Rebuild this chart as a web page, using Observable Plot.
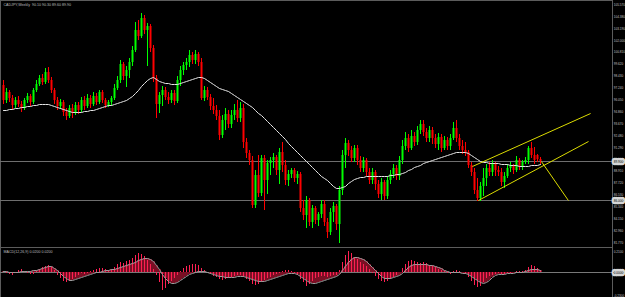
<!DOCTYPE html>
<html><head><meta charset="utf-8">
<script src="https://cdn.jsdelivr.net/npm/d3@7"></script>
<script src="https://cdn.jsdelivr.net/npm/@observablehq/plot@0.6"></script>
<style>html,body{margin:0;padding:0;background:#000;overflow:hidden} svg{display:block}</style>
</head><body><div id="chart"></div>
<script>
const symbolTitle = "CADJPY,Weekly  90.10 90.30 89.60 89.90";
const macdTitle = "MACD(12,26,9) 0.0200 0.0200";

const open = [97.5,96.0,96.8,96.2,95.5,96.0,95.6,95.2,96.0,96.4,
95.8,97.0,97.6,98.2,97.8,98.8,98.0,97.0,96.0,95.4,
95.8,94.8,94.4,95.2,94.8,95.5,95.0,96.0,95.4,96.2,
95.6,96.4,95.8,96.8,96.0,95.5,95.8,96.2,97.2,98.0,
99.6,98.4,99.0,99.8,101.0,103.0,102.4,104.2,103.0,103.4,
101.2,98.2,95.6,96.5,97.0,96.3,96.0,96.7,95.9,98.0,
99.0,99.5,99.8,100.5,100.0,100.6,99.8,96.2,97.0,96.3,
95.4,95.0,94.4,92.5,94.0,94.6,93.6,94.5,95.0,94.2,
95.2,91.8,90.7,90.0,85.5,88.5,86.7,90.2,88.0,89.7,
90.0,90.3,89.0,90.8,89.5,88.0,88.6,89.0,88.2,88.6,
85.2,84.5,86.0,83.8,85.2,84.0,84.6,85.6,83.8,82.8,
84.8,85.4,83.6,87.0,90.5,91.7,91.0,90.2,91.2,90.0,
89.2,90.0,88.8,88.0,88.8,87.6,86.6,87.8,86.4,88.0,
88.6,89.2,88.4,90.0,91.4,92.2,91.2,92.4,91.8,93.0,
93.6,92.8,92.2,93.0,92.2,91.6,92.3,91.2,92.0,91.4,
92.2,93.2,92.2,91.4,91.0,90.8,89.5,88.8,87.0,86.2,
87.4,88.2,89.2,88.8,89.6,89.0,88.8,87.8,88.4,89.2,
89.4,89.0,90.0,89.4,89.8,90.0,91.2,90.5,90.5,90.1];
const close = [96.0,96.8,96.2,95.5,96.0,95.6,95.2,96.0,96.4,95.8,
97.0,97.6,98.2,97.8,98.8,98.0,97.0,96.0,95.4,95.8,
94.8,94.4,95.2,94.8,95.5,95.0,96.0,95.4,96.2,95.6,
96.4,95.8,96.8,96.0,95.5,95.8,96.2,97.2,98.0,99.6,
98.4,99.0,99.8,101.0,103.0,102.4,104.2,103.0,103.4,101.2,
98.2,95.6,96.5,97.0,96.3,96.0,96.7,95.9,98.0,99.0,
99.5,99.8,100.5,100.0,100.6,99.8,96.2,97.0,96.3,95.4,
95.0,94.4,92.5,94.0,94.6,93.6,94.5,95.0,94.2,95.2,
91.8,90.7,90.0,85.5,88.5,86.7,90.2,88.0,89.7,90.0,
90.3,89.0,90.8,89.5,88.0,88.6,89.0,88.2,88.6,85.2,
84.5,86.0,83.8,85.2,84.0,84.6,85.6,83.8,82.8,84.8,
85.4,83.6,87.0,90.5,91.7,91.0,90.2,91.2,90.0,89.2,
90.0,88.8,88.0,88.8,87.6,86.6,87.8,86.4,88.0,88.6,
89.2,88.4,90.0,91.4,92.2,91.2,92.4,91.8,93.0,93.6,
92.8,92.2,93.0,92.2,91.6,92.3,91.2,92.0,91.4,92.2,
93.2,92.2,91.4,91.0,90.8,89.5,88.8,87.0,86.2,87.4,
88.2,89.2,88.8,89.6,89.0,88.8,87.8,88.4,89.2,89.4,
89.0,90.0,89.4,89.8,90.0,91.2,90.5,90.0,90.1,89.9];
const high = [98.0,97.2,97.0,96.5,96.3,96.4,95.9,96.2,96.7,96.6,
97.2,98.0,98.5,98.6,99.2,99.3,98.3,97.2,96.3,96.1,
96.0,95.2,95.5,95.6,95.8,95.8,96.3,96.4,96.6,96.5,
96.8,96.7,97.0,97.0,96.2,96.0,96.4,97.6,98.4,100.0,
99.8,99.4,100.2,101.4,103.8,104.0,104.7,104.5,103.7,103.6,
101.5,98.5,96.8,97.4,97.3,96.8,97.0,97.0,98.4,99.4,
99.8,100.2,101.0,100.8,101.0,100.8,100.2,97.4,97.3,96.6,
96.2,95.5,95.0,94.5,95.2,95.0,95.0,95.6,96.0,95.8,
95.6,92.2,91.0,90.4,89.0,90.5,90.5,90.5,90.0,90.3,
90.7,90.5,91.2,91.8,90.0,89.0,89.2,89.2,88.9,88.8,
86.0,86.4,86.2,85.5,85.4,84.8,86.0,86.0,84.2,85.2,
85.8,85.6,87.4,91.0,92.2,92.0,91.4,91.5,91.5,90.4,
90.3,90.2,89.2,89.2,89.0,88.0,88.2,88.0,88.4,89.0,
89.6,89.5,90.4,92.0,92.8,92.6,93.0,92.8,93.4,94.0,
94.0,93.2,93.4,93.3,92.6,92.7,92.6,92.4,92.3,92.6,
93.8,94.0,92.6,92.0,91.8,91.0,89.8,89.2,88.2,87.8,
89.2,89.6,89.8,90.0,89.8,89.4,89.2,88.8,89.6,89.8,
89.6,90.4,90.2,90.0,90.3,91.4,91.8,91.3,90.6,90.3];
const low = [95.6,95.7,95.8,95.0,95.2,95.3,94.8,95.0,95.7,95.4,
95.6,96.8,97.4,97.5,97.6,97.7,96.7,95.6,95.0,95.1,
94.4,94.0,94.2,94.2,94.5,94.6,94.8,95.0,95.2,95.2,
95.4,95.5,95.6,95.7,95.2,95.3,95.4,96.0,97.0,97.7,
98.0,97.3,98.2,99.4,100.8,102.0,102.2,102.6,99.4,100.8,
97.8,94.2,94.7,95.4,96.0,95.6,95.7,95.5,95.7,97.4,
98.5,99.0,99.3,99.6,99.6,99.4,96.0,95.9,96.0,95.0,
94.6,94.0,92.0,92.2,93.0,93.2,93.2,94.0,93.8,93.8,
91.2,90.2,89.5,85.2,85.2,86.3,86.4,85.0,86.6,88.5,
89.2,88.5,87.6,88.8,87.5,87.4,88.2,87.8,87.6,84.8,
84.0,83.2,83.4,83.2,83.6,83.4,84.2,83.4,82.2,82.5,
83.8,83.0,81.7,86.5,89.2,90.4,89.8,89.8,89.5,88.8,
88.8,88.4,87.6,87.6,87.0,86.2,86.0,86.0,86.1,87.6,
88.2,88.0,88.0,89.6,91.0,90.8,91.0,91.4,91.5,92.6,
92.4,91.8,91.8,91.6,91.2,91.0,90.8,91.0,91.0,91.0,
92.0,91.8,91.0,90.6,90.4,89.2,88.4,86.6,85.9,85.9,
86.4,87.4,88.4,88.4,88.4,88.4,87.4,87.2,88.2,88.8,
88.6,88.8,89.0,89.0,89.6,89.6,90.2,89.6,89.8,89.6];
const movingAverage = [95.0,95.0,95.1,95.1,95.2,95.2,95.3,95.3,95.4,95.4,
95.5,95.5,95.6,95.6,95.6,95.6,95.5,95.4,95.3,95.2,
95.1,95.0,94.9,94.8,94.8,94.8,94.8,94.9,94.9,95.0,
95.0,95.1,95.2,95.3,95.4,95.5,95.5,95.6,95.7,95.8,
95.9,96.0,96.2,96.4,96.7,97.0,97.4,97.7,98.0,98.2,
98.3,98.1,97.9,97.8,97.7,97.7,97.6,97.6,97.6,97.7,
97.8,97.9,98.0,98.1,98.2,98.3,98.3,98.2,98.0,97.8,
97.6,97.4,97.2,97.1,97.0,96.9,96.7,96.5,96.3,96.1,
95.9,95.7,95.5,95.3,95.0,94.7,94.5,94.2,93.9,93.6,
93.3,93.0,92.7,92.4,92.1,91.7,91.4,91.1,90.8,90.5,
90.2,89.9,89.6,89.3,89.0,88.7,88.4,88.2,88.0,87.7,
87.4,87.2,87.2,87.3,87.4,87.7,87.9,88.1,88.2,88.3,
88.3,88.4,88.4,88.4,88.4,88.4,88.4,88.4,88.4,88.5,
88.5,88.6,88.6,88.7,88.8,89.0,89.1,89.3,89.4,89.5,
89.7,89.8,89.9,90.0,90.1,90.2,90.3,90.4,90.5,90.6,
90.7,90.8,90.8,90.8,90.8,90.7,90.5,90.3,90.1,89.9,
89.8,89.8,89.7,89.7,89.7,89.7,89.6,89.6,89.6,89.5,
89.5,89.5,89.4,89.4,89.4,89.4,89.5,89.5,89.5,89.6];
const macdHist = [0.01,-0.01,-0.02,-0.03,-0.01,0.02,0.03,0.01,-0.01,-0.02,
-0.02,0.01,0.03,0.05,0.06,0.07,0.05,0.02,-0.03,-0.06,
-0.09,-0.10,-0.09,-0.07,-0.05,-0.03,-0.01,-0.02,-0.01,0.01,
0.02,0.03,0.04,0.04,0.03,0.02,0.03,0.05,0.08,0.10,
0.09,0.11,0.12,0.14,0.17,0.19,0.18,0.16,0.12,0.08,
0.03,-0.03,-0.10,-0.18,-0.16,-0.12,-0.09,-0.06,-0.03,0.01,
0.04,0.06,0.07,0.08,0.08,0.07,0.04,0.02,0.00,-0.02,
-0.04,-0.05,-0.07,-0.08,-0.07,-0.06,-0.05,-0.04,-0.03,-0.03,
-0.05,-0.07,-0.09,-0.12,-0.13,-0.12,-0.10,-0.08,-0.06,-0.05,
-0.03,-0.02,-0.01,0.01,0.02,0.02,0.01,-0.01,-0.03,-0.07,
-0.10,-0.14,-0.12,-0.09,-0.06,-0.05,-0.04,-0.04,-0.05,-0.04,
-0.03,-0.03,0.02,0.10,0.17,0.21,0.19,0.15,0.13,0.10,
0.08,0.06,0.03,-0.01,-0.04,-0.07,-0.09,-0.10,-0.09,-0.07,
-0.05,-0.03,0.00,0.04,0.08,0.11,0.12,0.11,0.10,0.09,
0.10,0.09,0.07,0.06,0.05,0.03,0.02,0.01,-0.01,-0.02,
0.01,0.02,0.01,0.00,-0.02,-0.05,-0.09,-0.13,-0.15,-0.14,
-0.10,-0.06,-0.04,-0.03,-0.02,-0.01,-0.02,-0.02,-0.01,-0.01,
0.00,0.01,0.01,0.01,0.02,0.05,0.07,0.06,0.04,0.02];
const macdSignal = [0.01,0.01,0.00,0.00,0.00,0.00,0.01,0.01,0.01,0.01,
0.02,0.02,0.03,0.04,0.05,0.06,0.06,0.04,0.02,-0.01,
-0.04,-0.06,-0.08,-0.08,-0.07,-0.06,-0.05,-0.04,-0.03,-0.02,
-0.01,0.00,0.00,0.01,0.02,0.02,0.03,0.03,0.04,0.05,
0.06,0.07,0.08,0.09,0.10,0.12,0.13,0.14,0.14,0.13,
0.11,0.07,0.03,-0.02,-0.06,-0.09,-0.11,-0.11,-0.10,-0.08,
-0.06,-0.04,-0.02,-0.01,0.00,0.01,0.01,0.01,0.00,-0.01,
-0.02,-0.03,-0.04,-0.04,-0.05,-0.05,-0.05,-0.05,-0.04,-0.04,
-0.04,-0.05,-0.06,-0.07,-0.08,-0.09,-0.09,-0.09,-0.08,-0.07,
-0.06,-0.05,-0.04,-0.03,-0.02,-0.01,-0.01,-0.01,-0.02,-0.04,
-0.06,-0.08,-0.10,-0.11,-0.11,-0.10,-0.09,-0.08,-0.07,-0.06,
-0.05,-0.04,-0.02,0.02,0.06,0.10,0.13,0.15,0.15,0.14,
0.13,0.11,0.08,0.05,0.02,-0.01,-0.04,-0.06,-0.06,-0.06,
-0.05,-0.04,-0.03,-0.01,0.02,0.05,0.07,0.08,0.08,0.08,
0.08,0.08,0.07,0.07,0.06,0.05,0.04,0.02,0.01,0.00,
0.00,0.00,0.00,-0.01,-0.01,-0.02,-0.04,-0.06,-0.08,-0.10,
-0.11,-0.10,-0.08,-0.05,-0.03,-0.02,-0.02,-0.02,-0.01,-0.01,
-0.01,0.00,0.00,0.00,0.01,0.02,0.03,0.03,0.03,0.02];

const priceTicks = [105.57,104.38,103.19,102.00,100.81,99.62,98.43,97.24,96.05,94.86,93.67,92.48,91.29,88.91,87.72,86.53,85.34,84.15,82.96,81.77];
const macdTicks = [0.21,-0.23];
const lastPrice = 89.9;
const levelPrice = 86.0;
// trend lines: bar index / price pairs
const trendX1 = [156.3,158.3,179.3];
const trendY1 = [89.4,86.0,89.9];
const trendX2 = [195.7,195.0,188.3];
const trendY2 = [94.7,91.9,86.0];

const candles = open.map((o, i) => ({i, o, h: high[i], l: low[i], c: close[i]}));
const trends = trendX1.map((x, k) => ({x1: x, y1: trendY1[k], x2: trendX2[k], y2: trendY2[k]}));
const up = "#00ff00", down = "#ff0000";
const col = d => d.c >= d.o ? up : down;
const font = "Liberation Sans Narrow, Liberation Sans, Arial, sans-serif";
const fs = 3.1;

const main = Plot.plot({
  width: 625, height: 247,
  marginLeft: 0, marginRight: 13, marginTop: 0, marginBottom: 0,
  style: {background: "#000", color: "#c0c0c0", fontFamily: font, fontSize: fs + "px"},
  x: {domain: [-1, 203], axis: null},
  y: {domain: [81.3, 106], axis: null},
  marks: [
    Plot.frame({stroke: "#5c5c5c"}),
    Plot.ruleY([lastPrice, levelPrice], {stroke: "#6e6e6e", strokeWidth: 1}),
    Plot.ruleX(candles, {x: "i", y1: "l", y2: "h", stroke: col, strokeWidth: 1}),
    Plot.ruleX(candles, {x: "i", y1: "o", y2: d => Math.abs(d.c - d.o) < 0.05 ? d.o + 0.1 : d.c, stroke: col, strokeWidth: 2}),
    Plot.line(movingAverage, {x: (d, i) => i, y: d => d, stroke: "#e6e6e6", strokeWidth: 1}),
    Plot.link(trends, {x1: "x1", y1: "y1", x2: "x2", y2: "y2", stroke: "#dcdc00", strokeWidth: 1}),
    Plot.axisY(priceTicks, {anchor: "right", tickSize: 0, tickPadding: 1.2, tickFormat: d => d.toFixed(3), fontSize: fs}),
    Plot.text([lastPrice, levelPrice], {y: d => d, text: d => d.toFixed(3), frameAnchor: "right", textAnchor: "start", dx: 1.2, fill: "#000", stroke: "#d6d6d6", strokeWidth: 4.5, fontSize: fs}),
    Plot.text([symbolTitle], {frameAnchor: "top-left", dx: 3, dy: 2.5, lineAnchor: "top", textAnchor: "start", fill: "#bdbdbd", fontSize: 3.6})
  ]
});

const macd = Plot.plot({
  width: 625, height: 50,
  marginLeft: 0, marginRight: 13, marginTop: 0, marginBottom: 0,
  style: {background: "#000", color: "#c0c0c0", fontFamily: font, fontSize: fs + "px"},
  x: {domain: [-1, 203], axis: null},
  y: {domain: [-0.25, 0.25], axis: null},
  marks: [
    Plot.frame({stroke: "#5c5c5c"}),
    Plot.ruleY([0], {stroke: "#787878"}),
    Plot.ruleX(macdSignal, {x: (d, i) => i, y1: 0, y2: d => d, stroke: "#7a0f24", strokeWidth: 3}),
    Plot.ruleX(macdHist, {x: (d, i) => i, y1: 0, y2: d => d, stroke: "#ff2052", strokeWidth: 1}),
    Plot.line(macdSignal, {x: (d, i) => i, y: d => d, stroke: "#9c9c9c", strokeWidth: 1}),
    Plot.axisY(macdTicks, {anchor: "right", tickSize: 0, tickPadding: 1.2, tickFormat: d => d.toFixed(4), fontSize: fs}),
    Plot.text([0], {y: d => d, text: d => d.toFixed(4), frameAnchor: "right", textAnchor: "start", dx: 1.2, fill: "#000", stroke: "#d6d6d6", strokeWidth: 4.5, fontSize: fs}),
    Plot.text([macdTitle], {frameAnchor: "top-left", dx: 3, dy: 3, lineAnchor: "top", textAnchor: "start", fill: "#bdbdbd", fontSize: 3.6})
  ]
});

document.getElementById("chart").append(main, macd);
</script>
</body></html>
